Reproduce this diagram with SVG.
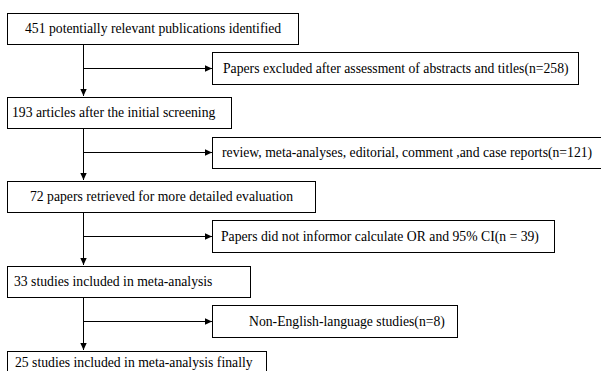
<svg xmlns="http://www.w3.org/2000/svg" width="601" height="371" viewBox="0 0 601 371">
<defs>
<marker id="ah" markerWidth="8" markerHeight="8" refX="7" refY="4" orient="auto" markerUnits="userSpaceOnUse">
<path d="M0,0.8 L7,4 L0,7.2 Z" fill="#000"/>
</marker>
<style>
.box{fill:#fff;stroke:#000;stroke-width:1}
.ln{stroke:#000;stroke-width:1;fill:none}
text{font-family:'Liberation Serif','Times New Roman',serif;font-size:13.7px;fill:#000}
</style>
</defs>
<rect width="601" height="371" fill="#fff"/>
<g id="connectors">
<path class="ln" d="M83.5,44 V96" marker-end="url(#ah)"/>
<path class="ln" d="M83.5,68.5 H212" marker-end="url(#ah)"/>
<path class="ln" d="M83.5,128 V180" marker-end="url(#ah)"/>
<path class="ln" d="M83.5,152.5 H212" marker-end="url(#ah)"/>
<path class="ln" d="M83.5,212 V265" marker-end="url(#ah)"/>
<path class="ln" d="M83.5,236.5 H212" marker-end="url(#ah)"/>
<path class="ln" d="M83.5,297 V350" marker-end="url(#ah)"/>
<path class="ln" d="M83.5,321.5 H212" marker-end="url(#ah)"/>
</g>
<g id="n1"><rect class="box" x="7.5" y="13.5" width="291" height="31"/><text x="25" y="33">451 potentially relevant publications identified</text></g>
<g id="e1"><rect class="box" x="212.5" y="52.5" width="366" height="32"/><text x="223" y="73">Papers excluded after assessment of abstracts and titles(n=258)</text></g>
<g id="n2"><rect class="box" x="7.5" y="97.5" width="224" height="31"/><text x="12" y="117">193 articles after the initial screening</text></g>
<g id="e2"><rect class="box" x="212.5" y="137.5" width="392" height="31"/><text x="222" y="157">review, meta-analyses, editorial, comment ,and case reports(n=121)</text></g>
<g id="n3"><rect class="box" x="7.5" y="181.5" width="308" height="31"/><text x="30" y="201">72 papers retrieved for more detailed evaluation</text></g>
<g id="e3"><rect class="box" x="212.5" y="220.5" width="342" height="32"/><text x="221" y="241">Papers did not informor calculate OR and 95% CI(n = 39)</text></g>
<g id="n4"><rect class="box" x="7.5" y="266.5" width="243" height="31"/><text x="14" y="286">33 studies included in meta-analysis</text></g>
<g id="e4"><rect class="box" x="212.5" y="305.5" width="245" height="32"/><text x="249" y="326">Non-English-language studies(n=8)</text></g>
<g id="n5"><rect class="box" x="7.5" y="351.5" width="259" height="31"/><text x="15" y="367">25 studies included in meta-analysis finally</text></g>
</svg>
